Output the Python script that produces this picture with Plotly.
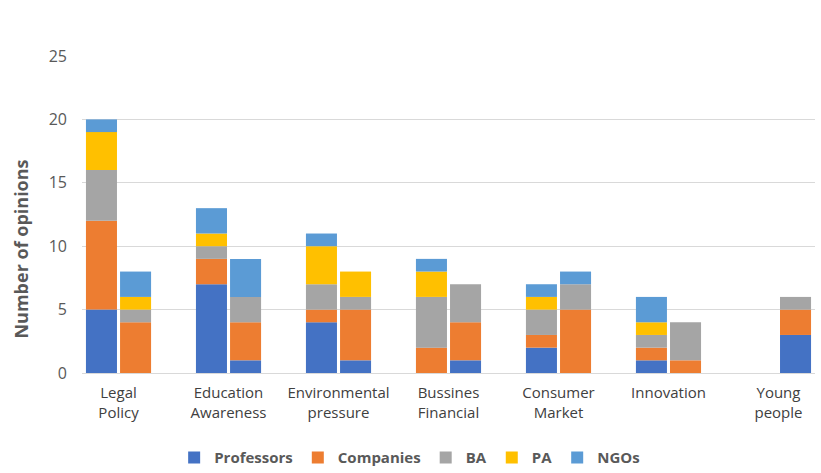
import plotly.graph_objects as go

categories = ["Legal<br>Policy", "Education<br>Awareness", "Environmental<br>pressure",
              "Bussines<br>Financial", "Consumer<br>Market", "Innovation", "Young<br>people"]
series = ["Professors", "Companies", "BA", "PA", "NGOs"]
colors = ["#4472C4", "#ED7D31", "#A5A5A5", "#FFC000", "#5B9BD5"]

# first bar of each category pair
first_bar = {
    "Professors": [5, 7, 4, 0, 2, 1, 0],
    "Companies":  [7, 2, 1, 2, 1, 1, 0],
    "BA":         [4, 1, 2, 4, 2, 1, 0],
    "PA":         [3, 1, 3, 2, 1, 1, 0],
    "NGOs":       [1, 2, 1, 1, 1, 2, 0],
}
# second bar of each category pair
second_bar = {
    "Professors": [0, 1, 1, 1, 0, 0, 3],
    "Companies":  [4, 3, 4, 3, 5, 1, 2],
    "BA":         [1, 2, 1, 3, 2, 3, 1],
    "PA":         [1, 0, 2, 0, 0, 0, 0],
    "NGOs":       [2, 3, 0, 0, 1, 0, 0],
}

fig = go.Figure()
for group, data in (("a", first_bar), ("b", second_bar)):
    base = [0] * len(categories)
    for name, color in zip(series, colors):
        vals = data[name]
        fig.add_trace(go.Bar(
            x=categories, y=vals, base=list(base), name=name,
            marker=dict(color=color, line=dict(width=0)),
            offsetgroup=group, legendgroup=name,
            showlegend=(group == "a"),
        ))
        base = [b + v for b, v in zip(base, vals)]

fig.update_layout(
    width=821, height=473,
    barmode="group", bargap=0.38, bargroupgap=0.09,
    plot_bgcolor="white", paper_bgcolor="white",
    margin=dict(l=82, r=6, t=56, b=100, autoexpand=False),
    font=dict(family="Open Sans, sans-serif", color="#595959"),
    legend=dict(orientation="h", x=0.447, xanchor="center", y=-0.215, yanchor="top",
                font=dict(size=15, color="#595959", family="Open Sans, sans-serif",
                          weight="bold"),
                itemwidth=30, traceorder="normal", tracegroupgap=0),
    xaxis=dict(range=[-0.332, 6.332], showgrid=False, showline=True,
               linecolor="#d9d9d9", linewidth=1, ticks="",
               ticklabelstandoff=6,
               tickfont=dict(size=15, color="#404040")),
    yaxis=dict(range=[0, 25], dtick=5, showgrid=True, gridcolor="#d9d9d9",
               gridwidth=1, zeroline=False, ticks="", ticklen=0,
               ticklabelstandoff=14,
               tickfont=dict(size=16, color="#595959")),
    annotations=[dict(text="<b>Number of opinions</b>", textangle=-90,
                      xref="paper", yref="paper", x=-0.083, y=0.39,
                      xanchor="center", yanchor="middle", showarrow=False,
                      font=dict(size=18, color="#595959"))],
)

fig.write_html("out.html")
